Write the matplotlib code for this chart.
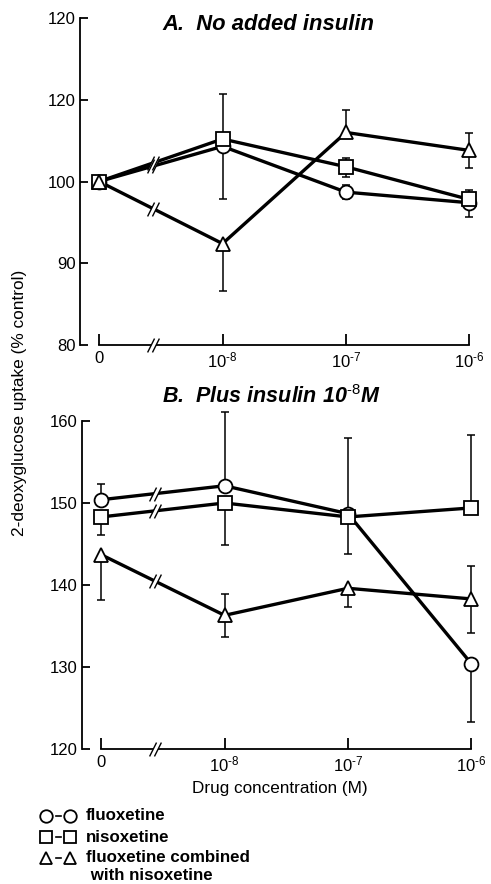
import matplotlib
matplotlib.use("Agg")
import matplotlib.pyplot as plt
import numpy as np
from matplotlib.path import Path
from matplotlib.lines import Line2D

plt.rcParams['font.family'] = ['Liberation Sans', 'DejaVu Sans']
plt.rcParams['mathtext.fontset'] = 'custom'
plt.rcParams['mathtext.rm'] = 'Liberation Sans'
plt.rcParams['mathtext.it'] = 'Liberation Sans:italic:bold'
plt.rcParams['mathtext.default'] = 'rm'

# ---- data ----
xlabels = ['0', r'10$^{\text{-}8}$', r'10$^{\text{-}7}$', r'10$^{\text{-}6}$']
series_names = ['fluoxetine', 'nisoxetine', 'fluoxetine combined\n with nisoxetine']
markers = ['o', 's', '^']

# panel A (no added insulin)
a_ticks = [80, 90, 100, 110, 120]
a_ticklabels = ['80', '90', '100', '120', '120']
a_vals = [[100, 104.3, 98.7, 97.4],
          [100, 105.2, 101.8, 97.8],
          [100, 92.4, 106.0, 103.8]]
a_lo = [[0, 6.5, 0.9, 1.8],
        [0, 0, 1.2, 0],
        [0, 5.8, 0, 2.1]]
a_hi = [[0, 6.4, 0.9, 0],
        [0, 0, 1.1, 1.1],
        [0, 0, 2.8, 2.1]]

# panel B (plus insulin 1e-8 M)
b_ticks = [120, 130, 140, 150, 160]
b_vals = [[150.4, 152.1, 148.7, 130.4],
          [148.3, 150.0, 148.3, 149.4],
          [143.7, 136.3, 139.6, 138.3]]
b_lo = [[0, 0, 0, 7.1],
        [2.2, 5.1, 4.5, 0],
        [5.5, 2.6, 2.3, 4.1]]
b_hi = [[1.9, 9.0, 9.2, 0],
        [0, 0, 0, 8.9],
        [0, 2.6, 0, 4.0]]

XBREAK = 0.44

# break mark: two slashes with a white gap between them
sl = 0.35
slash_path = Path([(-sl - 0.5, -1), (-sl + 0.5, 1), (sl - 0.5, -1), (sl + 0.5, 1)],
                  [Path.MOVETO, Path.LINETO, Path.MOVETO, Path.LINETO])
gap_path = Path([(-sl - 0.5, -1), (-sl + 0.5, 1), (sl + 0.5, 1), (sl - 0.5, -1), (-sl - 0.5, -1)],
                [Path.MOVETO, Path.LINETO, Path.LINETO, Path.LINETO, Path.CLOSEPOLY])


def draw_break(ax, x, y):
    ax.plot([x], [y], marker=gap_path, ms=10, mfc='white', mec='none', ls='none',
            zorder=4, clip_on=False)
    ax.plot([x], [y], marker=slash_path, ms=10, mec='black', mew=1.0, ls='none',
            zorder=5, clip_on=False)


def panel(ax, vals, lo, hi, ylim, yticks, yticklabels):
    x = np.arange(4)
    for v, l, h, m in zip(vals, lo, hi, markers):
        ax.errorbar(x, v, yerr=[l, h], fmt='none', ecolor='black', elinewidth=1.1,
                    capsize=2.7, capthick=1.1, zorder=2, clip_on=False)
        ax.plot(x, v, color='black', lw=2.4, zorder=3, clip_on=False)
        ax.plot(x, v, ls='none', marker=m, ms=10 if m != 's' else 9.5, mfc='white',
                mec='black', mew=1.3, zorder=6, clip_on=False)
        draw_break(ax, XBREAK, v[0] + (v[1] - v[0]) * XBREAK)
    ax.set_xlim(-0.155, 3.07)
    ax.set_ylim(*ylim)
    ax.spines['top'].set_visible(False)
    ax.spines['right'].set_visible(False)
    ax.spines['bottom'].set_bounds(0, 3)
    ax.spines['left'].set_linewidth(1.3)
    ax.spines['bottom'].set_linewidth(1.3)
    ax.set_xticks(x)
    ax.set_xticklabels(xlabels, fontsize=12)
    ax.set_yticks(yticks)
    ax.set_yticklabels(yticklabels, fontsize=12)
    ax.tick_params(axis='x', direction='in', length=8, width=1.3, pad=4)
    ax.tick_params(axis='y', direction='in', length=6, width=1.3, pad=3)
    draw_break(ax, XBREAK, ylim[0])


fig = plt.figure(figsize=(4.91, 8.84), dpi=100)
axA = fig.add_axes([80 / 491, 1 - 345 / 884, 398 / 491, 327 / 884])
axB = fig.add_axes([82 / 491, 1 - 749 / 884, 398 / 491, 328 / 884])

panel(axA, a_vals, a_lo, a_hi, (80, 120), a_ticks, a_ticklabels)
panel(axB, b_vals, b_lo, b_hi, (120, 160), b_ticks, [str(t) for t in b_ticks])

fig.text(268 / 491, 1 - 25 / 884, 'A.  No added insulin', fontsize=15.8, fontweight='bold',
         style='italic', ha='center', va='center')
fig.text(271 / 491, 1 - 397 / 884, r'B.  Plus insulin 10$\mathit{^{\text{-}8}}$M', fontsize=15.5,
         fontweight='bold', style='italic', ha='center', va='center')

fig.text(20 / 491, 1 - 403 / 884, '2-deoxyglucose uptake (% control)', fontsize=12.4,
         rotation=90, ha='center', va='center')
fig.text(280 / 491, 1 - 788 / 884, 'Drug concentration (M)', fontsize=12.3,
         ha='center', va='center')

# legend at bottom left
rows = [816, 837, 858]
for name, m, yy in zip(series_names, markers, rows):
    yf = 1 - yy / 884
    for xx in (46, 70):
        fig.add_artist(Line2D([xx / 491], [yf], marker=m, ms=9 if m != 's' else 8.5,
                              mfc='white', mec='black', mew=1.3, ls='none',
                              transform=fig.transFigure))
    fig.add_artist(Line2D([55.5 / 491, 60.5 / 491], [yf, yf], color='black', lw=1.2,
                          transform=fig.transFigure))
    for k, line in enumerate(name.split('\n')):
        fig.text(86 / 491, 1 - (yy + 17 * k) / 884, line, fontsize=12.2, fontweight='bold',
                 ha='left', va='center')

fig.savefig('out.png', dpi=100)
